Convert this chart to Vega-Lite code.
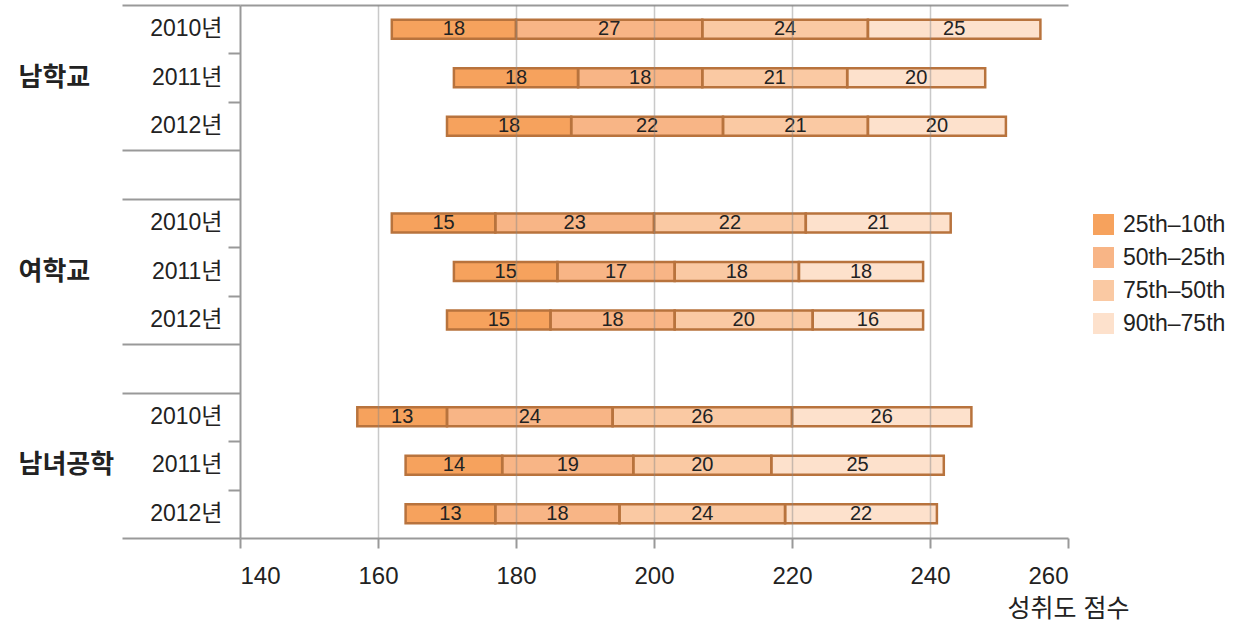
{
  "$schema": "https://vega.github.io/schema/vega-lite/v6.json",
  "width": 828,
  "height": 533,
  "autosize": {"type": "none"},
  "padding": {"left": 240, "top": 5, "right": 172, "bottom": 88},
  "background": "white",
  "config": {
    "view": {"stroke": null},
    "font": "Liberation Sans, Noto Sans CJK KR",
    "axis": {"labelFont": "Liberation Sans, Noto Sans CJK KR", "titleFont": "Liberation Sans, Noto Sans CJK KR", "labelColor": "#222", "titleColor": "#222"},
    "legend": {"labelFont": "Liberation Sans, Noto Sans CJK KR"},
    "text": {"font": "Liberation Sans, Noto Sans CJK KR"}
  },
  "data": {
    "values": [
      {"row": "남학교|2010년", "band": "25th–10th", "lo": 162, "hi": 180, "v": 18},
      {"row": "남학교|2010년", "band": "50th–25th", "lo": 180, "hi": 207, "v": 27},
      {"row": "남학교|2010년", "band": "75th–50th", "lo": 207, "hi": 231, "v": 24},
      {"row": "남학교|2010년", "band": "90th–75th", "lo": 231, "hi": 256, "v": 25},
      {"row": "남학교|2011년", "band": "25th–10th", "lo": 171, "hi": 189, "v": 18},
      {"row": "남학교|2011년", "band": "50th–25th", "lo": 189, "hi": 207, "v": 18},
      {"row": "남학교|2011년", "band": "75th–50th", "lo": 207, "hi": 228, "v": 21},
      {"row": "남학교|2011년", "band": "90th–75th", "lo": 228, "hi": 248, "v": 20},
      {"row": "남학교|2012년", "band": "25th–10th", "lo": 170, "hi": 188, "v": 18},
      {"row": "남학교|2012년", "band": "50th–25th", "lo": 188, "hi": 210, "v": 22},
      {"row": "남학교|2012년", "band": "75th–50th", "lo": 210, "hi": 231, "v": 21},
      {"row": "남학교|2012년", "band": "90th–75th", "lo": 231, "hi": 251, "v": 20},
      {"row": "여학교|2010년", "band": "25th–10th", "lo": 162, "hi": 177, "v": 15},
      {"row": "여학교|2010년", "band": "50th–25th", "lo": 177, "hi": 200, "v": 23},
      {"row": "여학교|2010년", "band": "75th–50th", "lo": 200, "hi": 222, "v": 22},
      {"row": "여학교|2010년", "band": "90th–75th", "lo": 222, "hi": 243, "v": 21},
      {"row": "여학교|2011년", "band": "25th–10th", "lo": 171, "hi": 186, "v": 15},
      {"row": "여학교|2011년", "band": "50th–25th", "lo": 186, "hi": 203, "v": 17},
      {"row": "여학교|2011년", "band": "75th–50th", "lo": 203, "hi": 221, "v": 18},
      {"row": "여학교|2011년", "band": "90th–75th", "lo": 221, "hi": 239, "v": 18},
      {"row": "여학교|2012년", "band": "25th–10th", "lo": 170, "hi": 185, "v": 15},
      {"row": "여학교|2012년", "band": "50th–25th", "lo": 185, "hi": 203, "v": 18},
      {"row": "여학교|2012년", "band": "75th–50th", "lo": 203, "hi": 223, "v": 20},
      {"row": "여학교|2012년", "band": "90th–75th", "lo": 223, "hi": 239, "v": 16},
      {"row": "남녀공학|2010년", "band": "25th–10th", "lo": 157, "hi": 170, "v": 13},
      {"row": "남녀공학|2010년", "band": "50th–25th", "lo": 170, "hi": 194, "v": 24},
      {"row": "남녀공학|2010년", "band": "75th–50th", "lo": 194, "hi": 220, "v": 26},
      {"row": "남녀공학|2010년", "band": "90th–75th", "lo": 220, "hi": 246, "v": 26},
      {"row": "남녀공학|2011년", "band": "25th–10th", "lo": 164, "hi": 178, "v": 14},
      {"row": "남녀공학|2011년", "band": "50th–25th", "lo": 178, "hi": 197, "v": 19},
      {"row": "남녀공학|2011년", "band": "75th–50th", "lo": 197, "hi": 217, "v": 20},
      {"row": "남녀공학|2011년", "band": "90th–75th", "lo": 217, "hi": 242, "v": 25},
      {"row": "남녀공학|2012년", "band": "25th–10th", "lo": 164, "hi": 177, "v": 13},
      {"row": "남녀공학|2012년", "band": "50th–25th", "lo": 177, "hi": 195, "v": 18},
      {"row": "남녀공학|2012년", "band": "75th–50th", "lo": 195, "hi": 219, "v": 24},
      {"row": "남녀공학|2012년", "band": "90th–75th", "lo": 219, "hi": 241, "v": 22}
    ]
  },
  "layer": [
    {
      "mark": {"type": "bar", "size": 19, "strokeWidth": 0},
      "encoding": {
        "y": {
          "field": "row", "type": "nominal",
          "scale": {"domain": ["남학교|2010년", "남학교|2011년", "남학교|2012년", "_1", "여학교|2010년", "여학교|2011년", "여학교|2012년", "_2", "남녀공학|2010년", "남녀공학|2011년", "남녀공학|2012년"], "paddingInner": 0, "paddingOuter": 0},
          "axis": {
            "orient": "left", "title": null, "labels": false, "tickBand": "extent",
            "domainColor": "#999", "domainWidth": 2, "tickColor": "#999", "tickWidth": 2,
            "tickSize": {"condition": {"test": "datum.extra || indexof(datum.value, '2012') > 0 || indexof(datum.value, '_') == 0", "value": 118}, "value": 12}
          }
        },
        "x": {
          "field": "lo", "type": "quantitative",
          "scale": {"domain": [140, 260], "nice": false, "zero": false},
          "axis": {
            "orient": "bottom", "values": [140, 160, 180, 200, 220, 240, 260],
            "title": "성취도 점수", "titleFontSize": 25, "titleFontWeight": "normal",
            "titleX": 828, "titleY": 70, "titleAlign": "center", "titleBaseline": "middle",
            "labelFontSize": 24, "labelPadding": 16,
            "tickSize": 10, "tickColor": "#999", "tickWidth": 2,
            "domainColor": "#999", "domainWidth": 2,
            "grid": true, "gridColor": "#888", "gridWidth": 1.5,
            "gridOpacity": {"condition": {"test": "datum.value == 140 || datum.value == 260", "value": 0}, "value": 0.45},
            "zindex": 1
          }
        },
        "x2": {"field": "hi"},
        "color": {
          "field": "band", "type": "nominal",
          "scale": {"domain": ["25th–10th", "50th–25th", "75th–50th", "90th–75th"], "range": ["#F6A25D", "#F8B586", "#FAC9A3", "#FDE1CC"]},
          "legend": {
            "title": null, "orient": "none", "legendX": 852, "legendY": 208,
            "symbolType": "square", "symbolSize": 441, "symbolStrokeWidth": 0, "symbolOpacity": 1,
            "labelFontSize": 23, "labelOffset": 8, "rowPadding": 9, "padding": 0, "labelColor": "#222"
          }
        }
      }
    },
    {
      "mark": {"type": "bar", "size": 19, "fillOpacity": 0, "stroke": "#B8733D", "strokeWidth": 2.5},
      "encoding": {
        "y": {
          "field": "row", "type": "nominal",
          "scale": {"domain": ["남학교|2010년", "남학교|2011년", "남학교|2012년", "_1", "여학교|2010년", "여학교|2011년", "여학교|2012년", "_2", "남녀공학|2010년", "남녀공학|2011년", "남녀공학|2012년"], "paddingInner": 0, "paddingOuter": 0},
          "axis": {
            "orient": "left", "title": null, "ticks": false, "domain": false, "tickSize": 0,
            "labelPadding": 222, "labelAlign": "left", "labelFontSize": 26, "labelFontWeight": "bold",
            "labelExpr": "indexof(datum.value, '2011') > 0 ? split(datum.value, '|')[0] : ''"
          }
        },
        "x": {"field": "lo", "type": "quantitative", "scale": {"domain": [140, 260], "nice": false, "zero": false}, "axis": null},
        "x2": {"field": "hi"}
      }
    },
    {
      "transform": [{"fold": ["lo", "hi"], "as": ["k", "xv"]}],
      "mark": {"type": "text", "fontSize": 20, "color": "#222"},
      "encoding": {
        "y": {
          "field": "row", "type": "nominal",
          "scale": {"domain": ["남학교|2010년", "남학교|2011년", "남학교|2012년", "_1", "여학교|2010년", "여학교|2011년", "여학교|2012년", "_2", "남녀공학|2010년", "남녀공학|2011년", "남녀공학|2012년"], "paddingInner": 0, "paddingOuter": 0},
          "axis": {
            "orient": "left", "title": null, "ticks": false, "domain": false, "tickSize": 0,
            "labelPadding": 18, "labelFontSize": 23,
            "labelExpr": "indexof(datum.value, '|') > 0 ? split(datum.value, '|')[1] : ''"
          }
        },
        "x": {
          "aggregate": "mean", "field": "xv", "type": "quantitative",
          "scale": {"domain": [140, 260], "nice": false, "zero": false},
          "axis": {"orient": "top", "labels": false, "ticks": false, "grid": false, "title": null, "domainColor": "#999", "domainWidth": 2}
        },
        "detail": {"field": "band"},
        "text": {"field": "v", "type": "quantitative"}
      }
    }
  ],
  "resolve": {"scale": {"x": "shared", "y": "shared"}, "axis": {"x": "independent", "y": "independent"}}
}
